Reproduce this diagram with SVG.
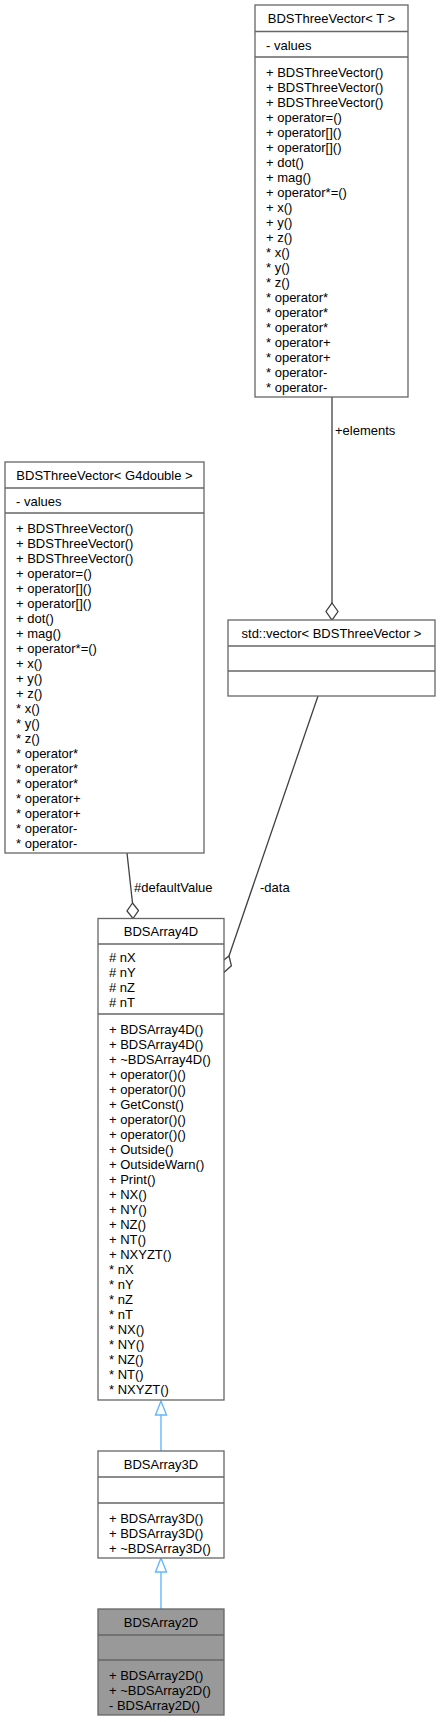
<svg xmlns="http://www.w3.org/2000/svg" width="440" height="1722" viewBox="0 0 440 1722">
<style>
text{font-family:"Liberation Sans",Arial,Helvetica,sans-serif;font-size:13px;fill:#000}
.c{text-anchor:middle}
.box{fill:#fff;stroke:#666;stroke-width:1.3}
.cur{fill:#999;stroke:#666;stroke-width:1.3}
.sep{stroke:#666;stroke-width:1.3}
.agg{fill:none;stroke:#404040;stroke-width:1.3}
.dia{fill:#fff;stroke:#404040;stroke-width:1.3}
.inh{fill:none;stroke:#63b8ff;stroke-width:1.4}
.tri{fill:#fff;stroke:#63b8ff;stroke-width:1.4}
</style>
<rect width="440" height="1722" fill="#fff"/>
<g id="connectors">
  <path class="agg" d="M332,397 L332,603"/>
  <polygon class="dia" points="332,603 338,611.5 332,620 326,611.5"/>
  <text x="335" y="435">+elements</text>
  <path class="agg" d="M127,853 L132.5,903"/>
  <polygon class="dia" points="132.5,903 138.5,910.5 133,918.5 127,911"/>
  <text x="134" y="892">#defaultValue</text>
  <path class="agg" d="M318,696 L229,956"/>
  <polygon class="dia" points="229,956 231.4,965.8 223.8,972.5 221,962.2"/>
  <text x="260" y="892">-data</text>
  <path class="inh" d="M161,1451 L161,1415"/>
  <polygon class="tri" points="161,1401 166.5,1415 155.5,1415"/>
  <path class="inh" d="M161,1609 L161,1572"/>
  <polygon class="tri" points="161,1558 166.5,1572 155.5,1572"/>
</g>
<g id="BDSThreeVectorT">
  <rect class="box" x="255" y="5" width="153" height="392"/>
  <line class="sep" x1="255" y1="31.5" x2="408" y2="31.5"/>
  <line class="sep" x1="255" y1="57" x2="408" y2="57"/>
  <text class="c" x="331.5" y="23">BDSThreeVector&lt; T &gt;</text>
  <text x="266" y="50">- values</text>
  <text x="266" y="76.5">+ BDSThreeVector()</text>
  <text x="266" y="91.5">+ BDSThreeVector()</text>
  <text x="266" y="106.5">+ BDSThreeVector()</text>
  <text x="266" y="121.5">+ operator=()</text>
  <text x="266" y="136.5">+ operator[]()</text>
  <text x="266" y="151.5">+ operator[]()</text>
  <text x="266" y="166.5">+ dot()</text>
  <text x="266" y="181.5">+ mag()</text>
  <text x="266" y="196.5">+ operator*=()</text>
  <text x="266" y="211.5">+ x()</text>
  <text x="266" y="226.5">+ y()</text>
  <text x="266" y="241.5">+ z()</text>
  <text x="266" y="256.5">* x()</text>
  <text x="266" y="271.5">* y()</text>
  <text x="266" y="286.5">* z()</text>
  <text x="266" y="301.5">* operator*</text>
  <text x="266" y="316.5">* operator*</text>
  <text x="266" y="331.5">* operator*</text>
  <text x="266" y="346.5">* operator+</text>
  <text x="266" y="361.5">* operator+</text>
  <text x="266" y="376.5">* operator-</text>
  <text x="266" y="391.5">* operator-</text>
</g>
<g id="BDSThreeVectorG4double">
  <rect class="box" x="5" y="462" width="199" height="391"/>
  <line class="sep" x1="5" y1="488" x2="204" y2="488"/>
  <line class="sep" x1="5" y1="513" x2="204" y2="513"/>
  <text class="c" x="104.5" y="480">BDSThreeVector&lt; G4double &gt;</text>
  <text x="16" y="506">- values</text>
  <text x="16" y="532.5">+ BDSThreeVector()</text>
  <text x="16" y="547.5">+ BDSThreeVector()</text>
  <text x="16" y="562.5">+ BDSThreeVector()</text>
  <text x="16" y="577.5">+ operator=()</text>
  <text x="16" y="592.5">+ operator[]()</text>
  <text x="16" y="607.5">+ operator[]()</text>
  <text x="16" y="622.5">+ dot()</text>
  <text x="16" y="637.5">+ mag()</text>
  <text x="16" y="652.5">+ operator*=()</text>
  <text x="16" y="667.5">+ x()</text>
  <text x="16" y="682.5">+ y()</text>
  <text x="16" y="697.5">+ z()</text>
  <text x="16" y="712.5">* x()</text>
  <text x="16" y="727.5">* y()</text>
  <text x="16" y="742.5">* z()</text>
  <text x="16" y="757.5">* operator*</text>
  <text x="16" y="772.5">* operator*</text>
  <text x="16" y="787.5">* operator*</text>
  <text x="16" y="802.5">* operator+</text>
  <text x="16" y="817.5">* operator+</text>
  <text x="16" y="832.5">* operator-</text>
  <text x="16" y="847.5">* operator-</text>
</g>
<g id="stdVector">
  <rect class="box" x="228" y="620" width="207" height="76"/>
  <line class="sep" x1="228" y1="646" x2="435" y2="646"/>
  <line class="sep" x1="228" y1="671" x2="435" y2="671"/>
  <text class="c" x="331.5" y="638">std::vector&lt; BDSThreeVector &gt;</text>
</g>
<g id="BDSArray4D">
  <rect class="box" x="98" y="918.5" width="126" height="481.5"/>
  <line class="sep" x1="98" y1="944" x2="224" y2="944"/>
  <line class="sep" x1="98" y1="1014" x2="224" y2="1014"/>
  <text class="c" x="161" y="936">BDSArray4D</text>
  <text x="109" y="962"># nX</text>
  <text x="109" y="977"># nY</text>
  <text x="109" y="992"># nZ</text>
  <text x="109" y="1007"># nT</text>
  <text x="109" y="1033.5">+ BDSArray4D()</text>
  <text x="109" y="1048.5">+ BDSArray4D()</text>
  <text x="109" y="1063.5">+ ~BDSArray4D()</text>
  <text x="109" y="1078.5">+ operator()()</text>
  <text x="109" y="1093.5">+ operator()()</text>
  <text x="109" y="1108.5">+ GetConst()</text>
  <text x="109" y="1123.5">+ operator()()</text>
  <text x="109" y="1138.5">+ operator()()</text>
  <text x="109" y="1153.5">+ Outside()</text>
  <text x="109" y="1168.5">+ OutsideWarn()</text>
  <text x="109" y="1183.5">+ Print()</text>
  <text x="109" y="1198.5">+ NX()</text>
  <text x="109" y="1213.5">+ NY()</text>
  <text x="109" y="1228.5">+ NZ()</text>
  <text x="109" y="1243.5">+ NT()</text>
  <text x="109" y="1258.5">+ NXYZT()</text>
  <text x="109" y="1273.5">* nX</text>
  <text x="109" y="1288.5">* nY</text>
  <text x="109" y="1303.5">* nZ</text>
  <text x="109" y="1318.5">* nT</text>
  <text x="109" y="1333.5">* NX()</text>
  <text x="109" y="1348.5">* NY()</text>
  <text x="109" y="1363.5">* NZ()</text>
  <text x="109" y="1378.5">* NT()</text>
  <text x="109" y="1393.5">* NXYZT()</text>
</g>
<g id="BDSArray3D">
  <rect class="box" x="98" y="1451" width="126" height="107"/>
  <line class="sep" x1="98" y1="1477" x2="224" y2="1477"/>
  <line class="sep" x1="98" y1="1503" x2="224" y2="1503"/>
  <text class="c" x="161" y="1469">BDSArray3D</text>
  <text x="109" y="1522.5">+ BDSArray3D()</text>
  <text x="109" y="1537.5">+ BDSArray3D()</text>
  <text x="109" y="1552.5">+ ~BDSArray3D()</text>
</g>
<g id="BDSArray2D">
  <rect class="cur" x="98" y="1609" width="126" height="106"/>
  <line class="sep" x1="98" y1="1635" x2="224" y2="1635"/>
  <line class="sep" x1="98" y1="1660" x2="224" y2="1660"/>
  <text class="c" x="161" y="1627">BDSArray2D</text>
  <text x="109" y="1679.5">+ BDSArray2D()</text>
  <text x="109" y="1694.5">+ ~BDSArray2D()</text>
  <text x="109" y="1709.5">- BDSArray2D()</text>
</g>
</svg>
